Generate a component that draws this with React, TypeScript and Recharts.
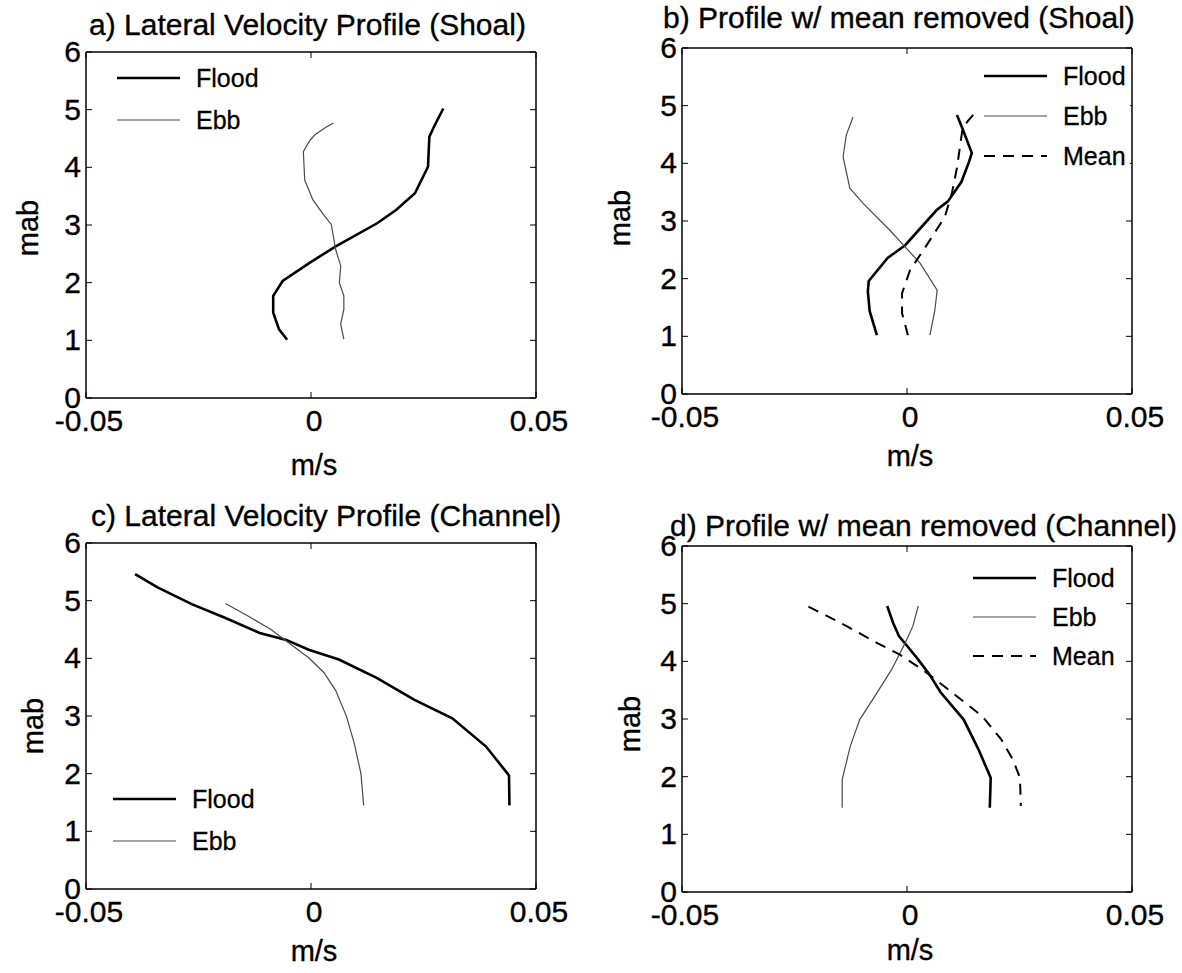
import React from "react";
import { ScatterChart, Scatter, XAxis, YAxis, Legend } from "recharts";

const FONT = '"Liberation Sans", Arial, Helvetica, sans-serif';
const PANEL_W = 591;
const PANEL_H = 486;
const TICK = 6;

const xTicks = [-0.05, 0, 0.05];
const xTickLabels = ["-0.05", "0", "0.05"];
const yTicks = [0, 1, 2, 3, 4, 5, 6];

// a) shoal, raw profiles (u in m/s, z in metres above bed)
const shoalFloodZ = [5.02, 4.7, 4.53, 4.01, 3.55, 3.26, 3.03, 2.63, 2.34, 2.03, 1.77, 1.48, 1.19, 1.01];
const shoalFloodU = [0.0294, 0.0273, 0.0263, 0.026, 0.0231, 0.0189, 0.0147, 0.0055, -0.0004, -0.0063, -0.0084, -0.0084, -0.0071, -0.0053];
const shoalEbbZ = [4.77, 4.7, 4.56, 4.45, 4.27, 3.78, 3.44, 3.21, 3.01, 2.57, 2.29, 2.0, 1.77, 1.54, 1.28, 1.02];
const shoalEbbU = [0.005, 0.0034, 0.0008, -0.0004, -0.0017, -0.0014, 0.0004, 0.0025, 0.0045, 0.0055, 0.0066, 0.0063, 0.0073, 0.0073, 0.0066, 0.0073];

// b) shoal, mean removed
const shoalFloodAnomZ = [4.84, 4.57, 4.18, 4.03, 3.68, 3.34, 3.19, 2.58, 2.36, 1.96, 1.78, 1.44, 1.02];
const shoalFloodAnomU = [0.0111, 0.0125, 0.0144, 0.0138, 0.0121, 0.0091, 0.0066, -0.0004, -0.0043, -0.0085, -0.0087, -0.0083, -0.0067];
const shoalEbbAnomZ = [4.8, 4.49, 4.11, 3.57, 3.31, 2.84, 2.59, 2.27, 1.8, 1.46, 1.02];
const shoalEbbAnomU = [-0.012, -0.0135, -0.0142, -0.0127, -0.0098, -0.0038, -0.0009, 0.0029, 0.0067, 0.0062, 0.0051];
const shoalMeanZ = [4.84, 4.63, 4.25, 3.92, 3.49, 3.07, 2.62, 2.15, 1.75, 1.4, 1.02];
const shoalMeanU = [0.0147, 0.0124, 0.0117, 0.0111, 0.01, 0.0084, 0.0047, 0.0007, -0.0011, -0.0011, 0.0002];

// c) channel, raw profiles
const channelFloodZ = [5.46, 5.23, 4.94, 4.7, 4.44, 4.32, 4.15, 3.98, 3.66, 3.28, 2.96, 2.47, 1.97, 1.45];
const channelFloodU = [-0.0391, -0.0341, -0.0265, -0.019, -0.0114, -0.0055, -0.0005, 0.0062, 0.0146, 0.023, 0.0314, 0.0389, 0.044, 0.0441];
const channelEbbZ = [4.95, 4.73, 4.5, 4.3, 4.01, 3.75, 3.44, 2.99, 2.53, 2.0, 1.45];
const channelEbbU = [-0.019, -0.0139, -0.0089, -0.0055, -0.0005, 0.0029, 0.0055, 0.0079, 0.0096, 0.0111, 0.0117];

// d) channel, mean removed
const channelFloodAnomZ = [4.96, 4.67, 4.44, 4.27, 4.03, 3.77, 3.46, 2.99, 2.47, 1.98, 1.46];
const channelFloodAnomU = [-0.0044, -0.0031, -0.0018, 0.0, 0.0025, 0.005, 0.0075, 0.0126, 0.0159, 0.0186, 0.0184];
const channelEbbAnomZ = [4.96, 4.61, 4.32, 3.86, 3.4, 2.99, 2.53, 1.95, 1.46];
const channelEbbAnomU = [0.0025, 0.0013, -0.0004, -0.0034, -0.0071, -0.0105, -0.0126, -0.0144, -0.0144];
const channelMeanZ = [4.95, 4.61, 4.32, 4.12, 3.86, 3.51, 3.05, 2.65, 2.3, 1.98, 1.49];
const channelMeanU = [-0.0219, -0.0134, -0.0067, -0.0017, 0.0034, 0.0092, 0.0167, 0.0209, 0.0235, 0.0251, 0.0253];

type Pt = { u: number; z: number };
const zip = (u: number[], z: number[]): Pt[] => u.map((v, i) => ({ u: v, z: z[i] }));

type Series = { name: string; data: Pt[]; stroke: string; width: number; dash?: string };

const flood = (data: Pt[]): Series => ({ name: "Flood", data, stroke: "#000", width: 2.6 });
const ebb = (data: Pt[]): Series => ({ name: "Ebb", data, stroke: "#4a4a4a", width: 1.2 });
const mean = (data: Pt[]): Series => ({ name: "Mean", data, stroke: "#000", width: 2, dash: "11 8" });

// scanned figure: text looks a little heavier than plain regular
const heavy = { stroke: "#000", strokeWidth: 0.35 };

// MATLAB style: ticks point into the box
function BottomTick({ x, y, payload }: any) {
  const i = xTicks.indexOf(payload.value);
  return (
    <g>
      <line x1={x} x2={x} y1={y} y2={y - TICK} stroke="#000" />
      <text x={x + 3} y={y + 33} textAnchor="middle" fontSize={30} fill="#000" fontFamily={FONT} {...heavy}>
        {xTickLabels[i]}
      </text>
    </g>
  );
}

function LeftTick({ x, y, payload }: any) {
  return (
    <g>
      <line x1={x} x2={x + TICK} y1={y} y2={y} stroke="#000" />
      <text x={x - 5} y={y + 10} textAnchor="end" fontSize={30} fill="#000" fontFamily={FONT} {...heavy}>
        {payload.value}
      </text>
    </g>
  );
}

function TopTick({ x, y }: any) {
  return <line x1={x} x2={x} y1={y} y2={y + TICK} stroke="#000" />;
}

function RightTick({ x, y }: any) {
  return <line x1={x} x2={x - TICK} y1={y} y2={y} stroke="#000" />;
}

type Box = { top: number; right: number; bottom: number; left: number };

type PanelProps = {
  left: number;
  top: number;
  box: Box; // distance of the plot box from each edge of the panel
  title: string;
  titleX: number;
  titleY: number;
  mabX: number;
  mabY: number;
  msY: number;
  series: Series[];
  legend: { x: number; y: number; gap: number };
};

function Panel(p: PanelProps) {
  const plotW = PANEL_W - p.box.left - p.box.right;
  const { legend } = p;
  // each axis takes 1px, so take it back from the margin
  const margin = { top: p.box.top - 1, right: p.box.right - 1, bottom: p.box.bottom - 1, left: p.box.left - 1 };
  const axisLine = { stroke: "#000", strokeWidth: 1.5 };

  const renderLegend = () => (
    <div style={{ background: "#fff", padding: "2px 4px", fontFamily: FONT, color: "#000" }}>
      {p.series.map((s) => (
        <div key={s.name} style={{ display: "flex", alignItems: "center", height: legend.gap }}>
          <svg width={63} height={10}>
            <line x1={0} x2={63} y1={5} y2={5} stroke={s.stroke} strokeWidth={s.width} strokeDasharray={s.dash} />
          </svg>
          <span style={{ marginLeft: 16, fontSize: 25, lineHeight: 1, WebkitTextStroke: "0.3px #000" }}>{s.name}</span>
        </div>
      ))}
    </div>
  );

  return (
    <div style={{ position: "absolute", left: p.left, top: p.top, width: PANEL_W, height: PANEL_H }}>
      <ScatterChart width={PANEL_W} height={PANEL_H} margin={margin}>
        <XAxis
          xAxisId="b"
          type="number"
          dataKey="u"
          domain={[-0.05, 0.05]}
          ticks={xTicks}
          interval={0}
          allowDataOverflow
          height={1}
          tickSize={0}
          tickMargin={0}
          tickLine={false}
          axisLine={axisLine}
          tick={BottomTick}
        />
        <XAxis
          xAxisId="t"
          orientation="top"
          type="number"
          dataKey="u"
          domain={[-0.05, 0.05]}
          ticks={xTicks}
          interval={0}
          allowDataOverflow
          height={1}
          tickSize={0}
          tickMargin={0}
          tickLine={false}
          axisLine={axisLine}
          tick={TopTick}
        />
        <YAxis
          yAxisId="l"
          type="number"
          dataKey="z"
          domain={[0, 6]}
          ticks={yTicks}
          interval={0}
          allowDataOverflow
          width={1}
          tickSize={0}
          tickMargin={0}
          tickLine={false}
          axisLine={axisLine}
          tick={LeftTick}
        />
        <YAxis
          yAxisId="r"
          orientation="right"
          type="number"
          dataKey="z"
          domain={[0, 6]}
          ticks={yTicks}
          interval={0}
          allowDataOverflow
          width={1}
          tickSize={0}
          tickMargin={0}
          tickLine={false}
          axisLine={axisLine}
          tick={RightTick}
        />
        {p.series.map((s) => (
          <Scatter
            key={s.name}
            name={s.name}
            xAxisId="b"
            yAxisId="l"
            data={s.data}
            fill={s.stroke}
            line={{ stroke: s.stroke, strokeWidth: s.width, strokeDasharray: s.dash }}
            lineType="joint"
            shape={() => <g />}
            isAnimationActive={false}
          />
        ))}
        <Legend
          layout="vertical"
          align="center"
          verticalAlign="middle"
          content={renderLegend}
          wrapperStyle={{ left: legend.x - 4, top: legend.y - legend.gap / 2 - 2, width: "auto" }}
        />
      </ScatterChart>
      <svg
        width={PANEL_W}
        height={PANEL_H}
        style={{ position: "absolute", left: 0, top: 0, pointerEvents: "none" }}
        fontFamily={FONT}
        fill="#000"
        {...heavy}
      >
        <text x={p.titleX} y={p.titleY} fontSize={30}>
          {p.title}
        </text>
        <text transform={`translate(${p.mabX},${p.mabY}) rotate(-90)`} textAnchor="middle" fontSize={29}>
          mab
        </text>
        <text x={p.box.left + plotW / 2 + 3} y={p.msY} textAnchor="middle" fontSize={29}>
          m/s
        </text>
      </svg>
    </div>
  );
}

export default function App() {
  return (
    <div style={{ position: "absolute", left: 0, top: 0, width: 1182, height: 973, background: "#fff" }}>
      <Panel
        left={0}
        top={0}
        box={{ top: 52, right: 55, bottom: 88, left: 86 }}
        title="a) Lateral Velocity Profile (Shoal)"
        titleX={89}
        titleY={35}
        mabX={38}
        mabY={228}
        msY={475}
        series={[flood(zip(shoalFloodU, shoalFloodZ)), ebb(zip(shoalEbbU, shoalEbbZ))]}
        legend={{ x: 117, y: 78, gap: 42 }}
      />
      <Panel
        left={591}
        top={0}
        box={{ top: 48, right: 50, bottom: 92, left: 91 }}
        title="b) Profile w/ mean removed (Shoal)"
        titleX={72}
        titleY={28}
        mabX={39}
        mabY={218}
        msY={466}
        series={[
          flood(zip(shoalFloodAnomU, shoalFloodAnomZ)),
          ebb(zip(shoalEbbAnomU, shoalEbbAnomZ)),
          mean(zip(shoalMeanU, shoalMeanZ)),
        ]}
        legend={{ x: 393, y: 76, gap: 40 }}
      />
      <Panel
        left={0}
        top={486}
        box={{ top: 57, right: 55, bottom: 83, left: 86 }}
        title="c) Lateral Velocity Profile (Channel)"
        titleX={91}
        titleY={40}
        mabX={43}
        mabY={240}
        msY={475}
        series={[flood(zip(channelFloodU, channelFloodZ)), ebb(zip(channelEbbU, channelEbbZ))]}
        legend={{ x: 113, y: 313, gap: 42 }}
      />
      <Panel
        left={591}
        top={486}
        box={{ top: 60, right: 50, bottom: 80, left: 91 }}
        title="d) Profile w/ mean removed (Channel)"
        titleX={79}
        titleY={50}
        mabX={49}
        mabY={238}
        msY={474}
        series={[
          flood(zip(channelFloodAnomU, channelFloodAnomZ)),
          ebb(zip(channelEbbAnomU, channelEbbAnomZ)),
          mean(zip(channelMeanU, channelMeanZ)),
        ]}
        legend={{ x: 382, y: 92, gap: 39 }}
      />
    </div>
  );
}
